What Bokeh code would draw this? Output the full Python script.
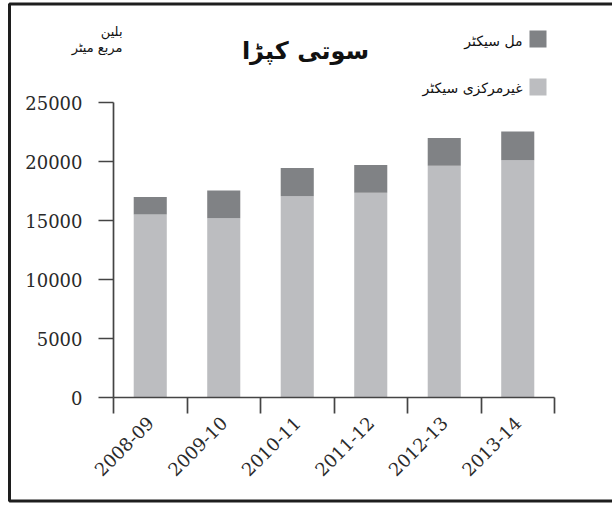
from bokeh.plotting import figure
from bokeh.models import Range1d, FixedTicker, Label, BoxAnnotation, ColumnDataSource, LinearAxis
from bokeh.embed import file_html
from bokeh.resources import INLINE
import math

# ---- data ----
categories = ["2008-09", "2009-10", "2010-11", "2011-12", "2012-13", "2013-14"]
decentralized = [15500, 15200, 17050, 17350, 19650, 20100]
mill = [1500, 2350, 2400, 2350, 2350, 2450]
y_ticks = [0, 5000, 10000, 15000, 20000, 25000]
y_max = 25000

title_text = "سوتی کپڑا"
unit_line1 = "بلین"
unit_line2 = "مربع میٹر"
legend_mill = "مل سیکٹر"
legend_dec = "غیرمرکزی سیکٹر"

# ---- layout (pixels) ----
W, H = 612, 505
x0_px, xn_px = 113, 554      # left / right end of category axis
y0_px, ytop_px = 397, 102    # pixel rows of 0 and y_max
n = len(categories)
xscale = (xn_px - x0_px) / n
yscale = (y0_px - ytop_px) / y_max
x_range = Range1d(-x0_px / xscale, n + (W - xn_px) / xscale)
y_range = Range1d(-(H - y0_px) / yscale, y_max + ytop_px / yscale)

centers = [i + 0.5 for i in range(n)]
src = ColumnDataSource(dict(x=centers, dec=decentralized, mill=mill))

p = figure(width=W, height=H, x_range=x_range, y_range=y_range,
           output_backend="svg", toolbar_location=None,
           x_axis_location=None, y_axis_location=None,
           min_border=0, min_border_left=0, min_border_right=0,
           min_border_top=0, min_border_bottom=0)
p.xgrid.visible = False
p.ygrid.visible = False
p.outline_line_color = None
p.background_fill_color = "white"
p.border_fill_color = "white"

p.vbar_stack(["dec", "mill"], x="x", width=0.45, source=src,
             color=["#bcbdc0", "#808285"], line_color=None)

axis_color = "#444444"
ya = LinearAxis(fixed_location=0, bounds=(0, y_max), ticker=FixedTicker(ticks=y_ticks))
xa = LinearAxis(fixed_location=0, bounds=(0, n),
                ticker=FixedTicker(ticks=centers, minor_ticks=list(range(n + 1))))
for ax in (xa, ya):
    ax.axis_line_color = axis_color
    ax.axis_line_width = 1.7
    ax.major_label_text_font = "DejaVu Serif"
    ax.major_label_text_font_size = "18px"
    ax.major_label_text_color = "#2a2a2a"

ya.major_tick_out = 15
ya.major_tick_in = 0
ya.major_tick_line_color = axis_color
ya.major_tick_line_width = 1.7
ya.minor_tick_line_color = None
ya.major_label_standoff = 16

xa.major_label_overrides = {c: lab for c, lab in zip(centers, categories)}
xa.major_tick_line_color = None
xa.major_tick_out = 16
xa.major_tick_in = 0
xa.minor_tick_out = 16
xa.minor_tick_in = 0
xa.minor_tick_line_color = axis_color
xa.minor_tick_line_width = 1.7
xa.major_label_orientation = math.pi / 4
xa.major_label_standoff = 6

p.add_layout(ya, "left")
p.add_layout(xa, "below")

def scr(px, py):
    return dict(x=px, y=H - py, x_units="screen", y_units="screen")

# outer frame (right edge lies outside the picture, as in the reference)
p.add_layout(BoxAnnotation(left=9, right=W + 10, bottom=H - 500.5, top=H - 3.5,
                           left_units="screen", right_units="screen",
                           bottom_units="screen", top_units="screen",
                           fill_color=None, fill_alpha=0, line_color="#1e1e1e",
                           line_alpha=1, line_width=3))

urdu_font = "DejaVu Sans"
ink = "#111111"
p.add_layout(Label(**scr(305, 50), text=title_text, text_align="center", text_baseline="middle",
                   text_font=urdu_font, text_font_size="24px", text_font_style="bold", text_color=ink))
p.add_layout(Label(**scr(122, 31), text=unit_line1, text_align="right", text_baseline="middle",
                   text_font=urdu_font, text_font_size="13px", text_color=ink))
p.add_layout(Label(**scr(122, 47), text=unit_line2, text_align="right", text_baseline="middle",
                   text_font=urdu_font, text_font_size="13px", text_color=ink))
p.add_layout(Label(**scr(522, 40), text=legend_mill, text_align="right", text_baseline="middle",
                   text_font=urdu_font, text_font_size="14px", text_color=ink))
p.add_layout(Label(**scr(522, 87), text=legend_dec, text_align="right", text_baseline="middle",
                   text_font=urdu_font, text_font_size="14px", text_color=ink))
for top_px, col in ((30, "#808285"), (78, "#bcbdc0")):
    p.add_layout(BoxAnnotation(left=529, right=546, bottom=H - top_px - 17, top=H - top_px,
                               left_units="screen", right_units="screen",
                               bottom_units="screen", top_units="screen",
                               fill_color=col, fill_alpha=1, line_color=None))

open("out.html", "w").write(file_html(p, INLINE))
